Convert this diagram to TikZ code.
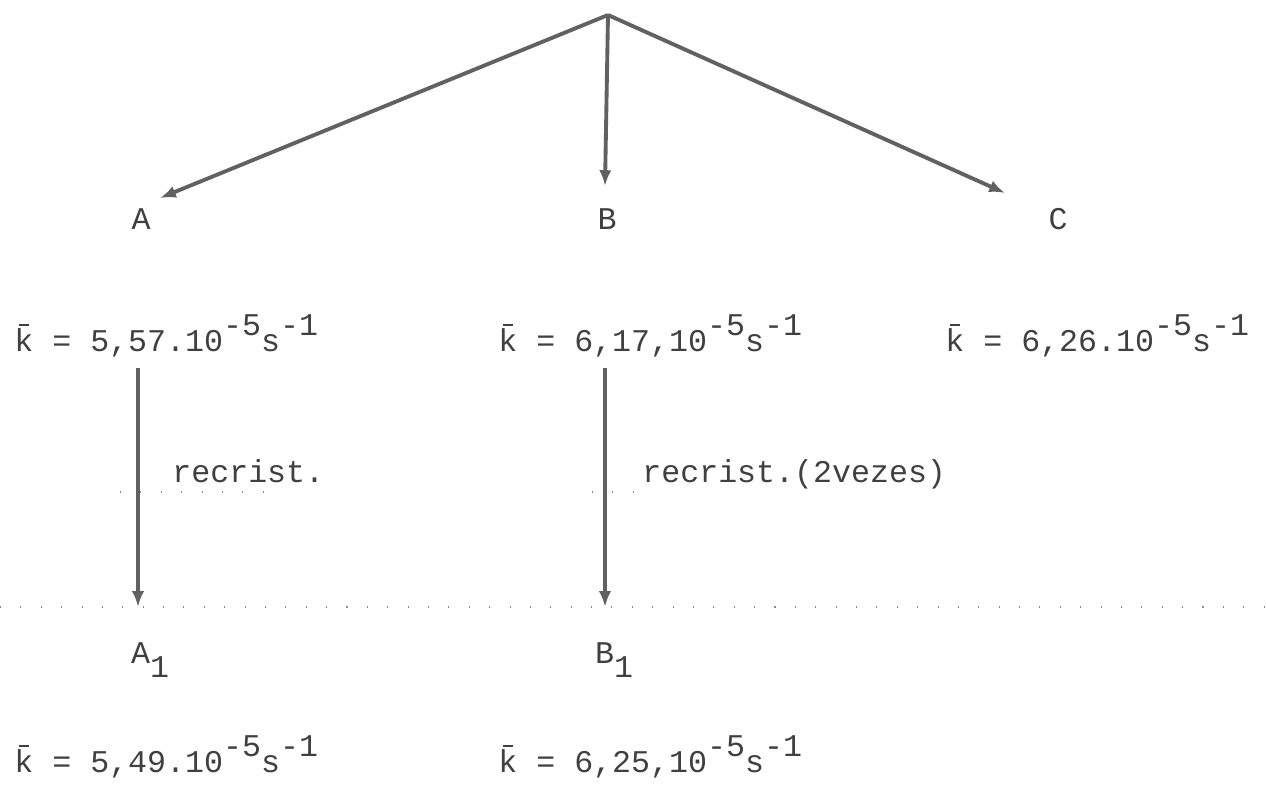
\documentclass[tikz,border=0pt]{standalone}
\usepackage{fontspec}
\newfontfamily\typewriter{Liberation Mono}
\usetikzlibrary{arrows.meta}

% typed superscript and k with a bar
\newcommand\up[1]{\raisebox{0.5em}{#1}}
\newcommand\kbar{\makebox[0pt][l]{\makebox[0.6em]{\raisebox{0.8em}{\rule{0.3em}{0.07em}}}}k}

\tikzset{
  typed/.style={font=\typewriter\fontsize{18}{20}\selectfont, text=black!75, inner sep=0pt},
  flow/.style={draw=black!62, line width=2.2pt, -{Latex[length=9pt,width=7pt]}},
  guide/.style={draw=black!45, line width=0.6pt, dash pattern=on 0.6pt off 11pt}
}

\begin{document}
\begin{tikzpicture}[x=0.02cm, y=-0.02cm]
  \useasboundingbox (0,0) rectangle (1266,796);

  % 1. Start point and arrow tips
  \coordinate (top) at (608,15);
  \coordinate (tipA) at (160,198);
  \coordinate (tipB) at (605,186);
  \coordinate (tipC) at (1005,193);

  % 2. First products
  \node[typed] (A) at (141,219) {A};
  \node[typed] (B) at (607,219) {B};
  \node[typed] (C) at (1058,219) {C};

  \draw[flow] (top) -- (tipA);
  \draw[flow] (top) -- (tipB);
  \draw[flow] (top) -- (tipC);

  % 3. Rate constants
  \node[typed, anchor=base west] (kA) at (14,351) {\kbar{} = 5,57.10\up{-5}s\up{-1}};
  \node[typed, anchor=base west] (kB) at (498,351) {\kbar{} = 6,17,10\up{-5}s\up{-1}};
  \node[typed, anchor=base west] (kC) at (945,351) {\kbar{} = 6,26.10\up{-5}s\up{-1}};

  % 4. Recrystallisation
  \coordinate (startA1) at (138,368);
  \coordinate (tipA1) at (138,607);
  \coordinate (startB1) at (605,368);
  \coordinate (tipB1) at (605,607);

  \draw[guide] (0,607) -- (1266,607);
  \draw[guide] (120,492) -- (278,492);
  \draw[guide] (592,492) -- (640,492);

  \draw[flow] (startA1) -- (tipA1);
  \draw[flow] (startB1) -- (tipB1);

  \node[typed, anchor=base west] (rA) at (172,482) {recrist.};
  \node[typed, anchor=base west] (rB) at (642,482) {recrist.(2vezes)};

  % 5. Recrystallised products
  \node[typed, anchor=base] (A1) at (150,663) {A\raisebox{-0.45em}{1}};
  \node[typed, anchor=base] (B1) at (614,663) {B\raisebox{-0.45em}{1}};

  \node[typed, anchor=base west] (kA1) at (14,772) {\kbar{} = 5,49.10\up{-5}s\up{-1}};
  \node[typed, anchor=base west] (kB1) at (498,772) {\kbar{} = 6,25,10\up{-5}s\up{-1}};

\end{tikzpicture}
\end{document}
